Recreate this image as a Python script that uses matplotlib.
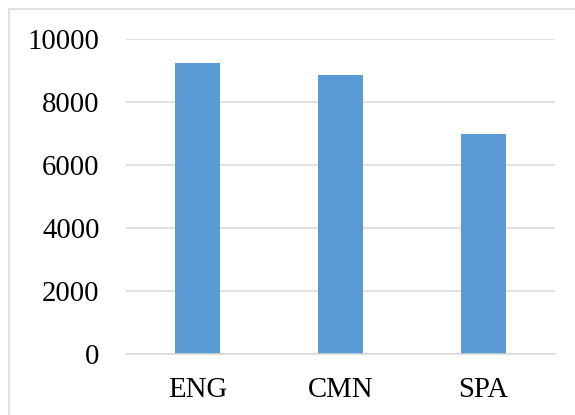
import matplotlib
matplotlib.use("Agg")
import matplotlib.pyplot as plt
from matplotlib.patches import Rectangle

languages = ["ENG", "CMN", "SPA"]
counts = [9240, 8860, 6970]
yticks = [0, 2000, 4000, 6000, 8000, 10000]

plt.rcParams["font.family"] = ["Liberation Serif", "DejaVu Serif"]

fig = plt.figure(figsize=(5.75, 4.15), dpi=100)
ax = fig.add_axes([126 / 575, 61.3 / 415, 429 / 575, 315 / 415])

ax.bar(range(len(languages)), counts, width=0.315, color="#5B9BD5", zorder=3)

ax.set_xlim(-0.5, len(languages) - 0.5)
ax.set_ylim(0, 10000)
ax.set_yticks(yticks)
ax.set_yticklabels([str(v) for v in yticks])
ax.set_xticks(range(len(languages)))
ax.set_xticklabels(languages)

ax.tick_params(axis="y", length=0, pad=19, labelsize=20.7)
ax.tick_params(axis="x", length=0, pad=17, labelsize=20.7)

ax.grid(axis="y", color="#D9D9D9", linewidth=1.1, zorder=0)
for side in ["top", "right", "left"]:
    ax.spines[side].set_visible(False)
ax.spines["bottom"].set_color("#D9D9D9")
ax.spines["bottom"].set_linewidth(1.1)
ax.spines["bottom"].set_zorder(4)

# chart-area frame, cut off at the right and bottom edges
fig.patches.append(Rectangle((9 / 575, -0.1), 1.2, 0.1 + 1 - 9 / 415,
                             transform=fig.transFigure, fill=False,
                             edgecolor="#D9D9D9", linewidth=1.1))

fig.savefig("out.png", dpi=100)
